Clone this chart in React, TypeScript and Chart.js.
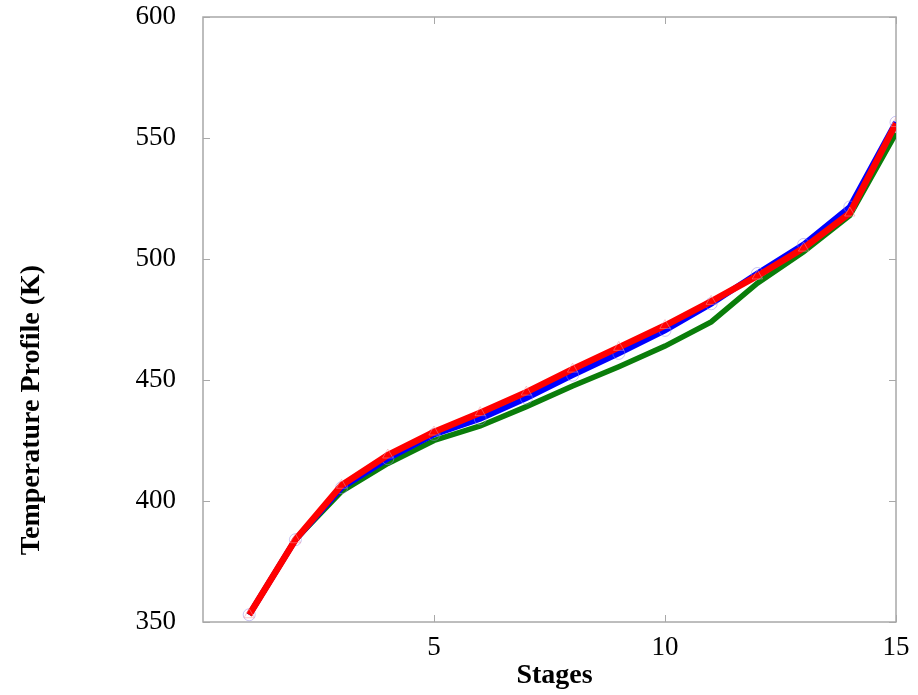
import React, { useEffect, useRef } from "react";
import { Chart, registerables } from "chart.js";

Chart.register(...registerables);

// Column stages and simulated temperature profiles
const stages = [1, 2, 3, 4, 5, 6, 7, 8, 9, 10, 11, 12, 13, 14, 15];
const redSeries = [353, 384, 406.5, 419, 428.5, 436.5, 445, 454.5, 463.5, 472.5, 482.5, 493, 504.5, 519, 556];
const blueSeries = [353, 384, 405.5, 417.5, 427.5, 434, 442.5, 452, 461, 470.5, 481.5, 494, 506, 521.5, 556.5];
const greenSeries = [353, 384, 404, 415.5, 425, 431, 439, 447.5, 455.5, 464, 474, 490, 503, 518, 552];

const xTickValues = [5, 10, 15];
const yTickValues = [350, 400, 450, 500, 550, 600];
const xTitle = "Stages";
const yTitle = "Temperature Profile (K)";

const FONT = "'Liberation Serif', 'Times New Roman', serif";
const AXIS_GRAY = "#a8a8a8";

// Frame around the plot area with inward-facing tick marks on all four sides
const framePlugin = {
  id: "frame",
  beforeDatasetsDraw(chart: any) {
    const { ctx, chartArea: a, scales } = chart;
    const len = 7;
    ctx.save();
    ctx.strokeStyle = AXIS_GRAY;
    ctx.lineWidth = 1.5;
    ctx.strokeRect(a.left, a.top, a.right - a.left, a.bottom - a.top);
    ctx.lineWidth = 1;
    ctx.beginPath();
    xTickValues.forEach((v) => {
      const x = Math.round(scales.x.getPixelForValue(v)) + 0.5;
      ctx.moveTo(x, a.bottom);
      ctx.lineTo(x, a.bottom - len);
      ctx.moveTo(x, a.top);
      ctx.lineTo(x, a.top + len);
    });
    yTickValues.forEach((v) => {
      const y = Math.round(scales.y.getPixelForValue(v)) + 0.5;
      ctx.moveTo(a.left, y);
      ctx.lineTo(a.left + len, y);
      ctx.moveTo(a.right, y);
      ctx.lineTo(a.right - len, y);
    });
    ctx.stroke();
    ctx.restore();
  },
};

// Axis titles
const titlesPlugin = {
  id: "axisTitles",
  afterDraw(chart: any) {
    const { ctx, chartArea: a } = chart;
    ctx.save();
    ctx.fillStyle = "#000";
    ctx.font = `bold 28px ${FONT}`;
    ctx.textAlign = "center";
    ctx.textBaseline = "middle";
    ctx.fillText(xTitle, (a.left + a.right) / 2 + 5, 676);
    ctx.translate(32, 410);
    ctx.rotate(-Math.PI / 2);
    ctx.fillText(yTitle, 0, 0);
    ctx.restore();
  },
};

export default function App() {
  const canvasRef = useRef<HTMLCanvasElement | null>(null);

  useEffect(() => {
    if (!canvasRef.current) return;
    const chart = new Chart(canvasRef.current, {
      type: "line",
      data: {
        labels: stages,
        datasets: [
          {
            label: "Red",
            data: stages.map((s, i) => ({ x: s, y: redSeries[i] })),
            borderColor: "#ff0000",
            borderWidth: 6.5,
            pointStyle: "triangle",
            pointRadius: 6,
            pointBorderWidth: 1,
            pointBorderColor: "rgba(245,150,160,0.5)",
            pointBackgroundColor: "rgba(0,0,0,0)",
            fill: false,
            tension: 0,
          },
          {
            label: "Blue",
            data: stages.map((s, i) => ({ x: s, y: blueSeries[i] })),
            borderColor: "#0000ff",
            borderWidth: 6,
            pointStyle: "circle",
            pointRadius: 6,
            pointBorderWidth: 1,
            pointBorderColor: "rgba(150,140,230,0.5)",
            pointBackgroundColor: "rgba(0,0,0,0)",
            fill: false,
            tension: 0,
          },
          {
            label: "Green",
            data: stages.map((s, i) => ({ x: s, y: greenSeries[i] })),
            borderColor: "#0a7d0a",
            borderWidth: 5.5,
            pointRadius: 0,
            fill: false,
            tension: 0,
          },
        ],
      },
      options: {
        animation: false,
        responsive: false,
        maintainAspectRatio: false,
        layout: { padding: { top: 17, right: 22, bottom: 0, left: 0 } },
        plugins: {
          legend: { display: false },
          tooltip: { enabled: false },
        },
        scales: {
          x: {
            type: "linear",
            min: 0,
            max: 15,
            afterBuildTicks: (scale: any) => {
              scale.ticks = xTickValues.map((v) => ({ value: v }));
            },
            afterFit: (scale: any) => {
              scale.height = 73;
              scale.paddingLeft = 0;
              scale.paddingRight = 0;
            },
            grid: { display: false, drawTicks: false },
            border: { display: false },
            ticks: {
              color: "#000",
              padding: 10,
              maxRotation: 0,
              autoSkip: false,
              font: { family: FONT, size: 27 },
            },
          },
          y: {
            type: "linear",
            min: 350,
            max: 600,
            afterBuildTicks: (scale: any) => {
              scale.ticks = yTickValues.map((v) => ({ value: v }));
            },
            afterFit: (scale: any) => {
              scale.width = 203;
              scale.paddingTop = 0;
              scale.paddingBottom = 0;
            },
            grid: { display: false, drawTicks: false },
            border: { display: false },
            ticks: {
              color: "#000",
              padding: 27,
              font: { family: FONT, size: 27 },
            },
          },
        },
      },
      plugins: [framePlugin, titlesPlugin],
    });
    return () => chart.destroy();
  }, []);

  return (
    <div style={{ position: "fixed", left: 0, top: 0, width: 918, height: 695, background: "#fff" }}>
      <canvas ref={canvasRef} width={918} height={695} />
    </div>
  );
}
